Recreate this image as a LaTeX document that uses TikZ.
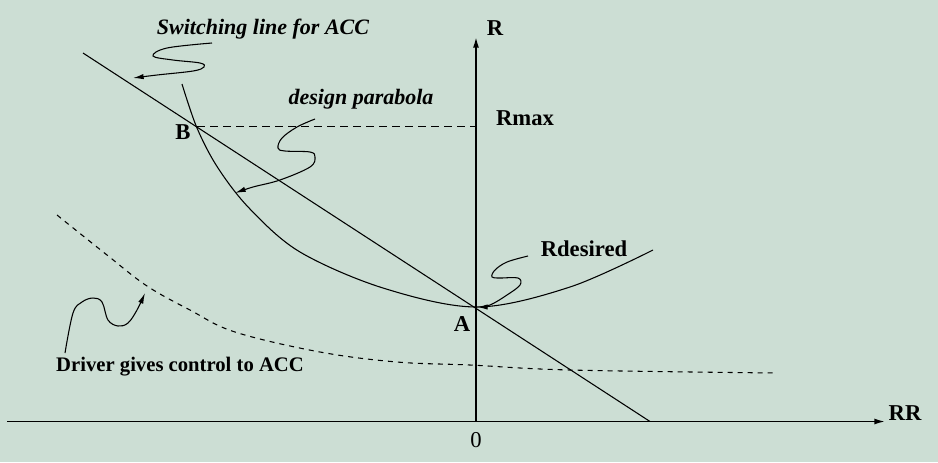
\documentclass[tikz,border=0pt]{standalone}
\usepackage{fontspec}
\setmainfont{Liberation Serif}
\usetikzlibrary{arrows.meta}
\definecolor{paper}{RGB}{204,222,212}
\tikzset{
  thinline/.style={line width=0.8pt, black},
  axis/.style={line width=1.2pt, -{Latex[length=8pt,width=4.5pt]}},
  squiggle/.style={line width=0.8pt, -{Latex[length=8pt,width=4pt]}},
  lab/.style={inner sep=0pt, font=\fontsize{17}{20}\selectfont\bfseries},
  note/.style={inner sep=0pt, font=\fontsize{16.5}{20}\selectfont\bfseries\itshape}
}
\begin{document}
\begin{tikzpicture}[x=0.75pt, y=-0.75pt]
  % pozadi
  \fill[paper] (0,0) rectangle (938,462);
  \useasboundingbox (0,0) rectangle (938,462);

  % osy
  \coordinate (o) at (476,421.5);
  \coordinate (xs) at (7,421.5);
  \coordinate (xe) at (885,421.5);
  \coordinate (ye) at (476,37);
  \draw[axis] (xs) -- (xe);
  \draw[axis] (o) -- (ye);
  \node[lab] (rr) at (905,413) {RR};
  \node[lab] (r) at (495,28) {R};
  \node[inner sep=0pt, font=\fontsize{17}{20}\selectfont] (zero) at (476,440) {0};

  % Rmax
  \coordinate (B) at (197,126.5);
  \coordinate (rm) at (476,126.5);
  \draw[thinline, dash pattern=on 6pt off 3.75pt] (B) -- (rm);
  \draw[thinline] (472,126.5) -- (rm);
  \node[lab] (rmax) at (525,118) {Rmax};

  % prepinaci primka
  \coordinate (sw1) at (83,53);
  \coordinate (sw2) at (650,421.5);
  \draw[thinline] (sw1) -- (sw2);

  % navrhova parabola
  \draw[thinline] plot [smooth, tension=0.55] coordinates {
    (182,84) (197,128) (218,168) (250,209) (300,252) (383,288) (477,307) (570,287) (653,250)
  };
  \coordinate (A) at (477,307);

  % prechod ridic -> ACC
  \draw[thinline, dash pattern=on 3.75pt off 3.75pt] plot [smooth, tension=0.6] coordinates {
    (57,215) (107,255) (147,286) (190,310) (235,332) (320,352) (397,362)
    (470,365) (570,370) (777,373)
  };

  % body
  \node[lab] (bl) at (183,132) {B};
  \node[lab] (al) at (462,324) {A};

  % popisky
  \node[note] (swl) at (263,29) {Switching line for ACC};
  \node[note] (dpl) at (361,99) {design parabola};
  \node[lab] (rdl) at (584,249) {Rdesired};
  \node[inner sep=0pt, font=\fontsize{15.5}{18}\selectfont\bfseries] (drl) at (180,367) {Driver gives control to ACC};

  % klikate sipky
  \draw[squiggle] plot [smooth, tension=0.6] coordinates {
    (212,43) (167,48) (153,56) (173,60) (200,63) (204,67) (193,71) (157,75) (133,78)
  };
  \draw[squiggle] plot [smooth, tension=0.6] coordinates {
    (315,119) (297,127) (282,138) (278,148) (285,151) (310,152) (315,157)
    (310,167) (280,180) (253,187) (235,193)
  };
  \draw[squiggle] plot [smooth, tension=0.6] coordinates {
    (528,256) (507,262) (495,270) (492,277) (500,278) (518,278) (520,285)
    (507,295) (490,305) (A)
  };
  \draw[squiggle] plot [smooth, tension=0.6] coordinates {
    (65,353) (73,313) (82,302) (93,298) (102,302) (108,320) (118,326)
    (128,323) (137,310) (145,293)
  };
\end{tikzpicture}
\end{document}
